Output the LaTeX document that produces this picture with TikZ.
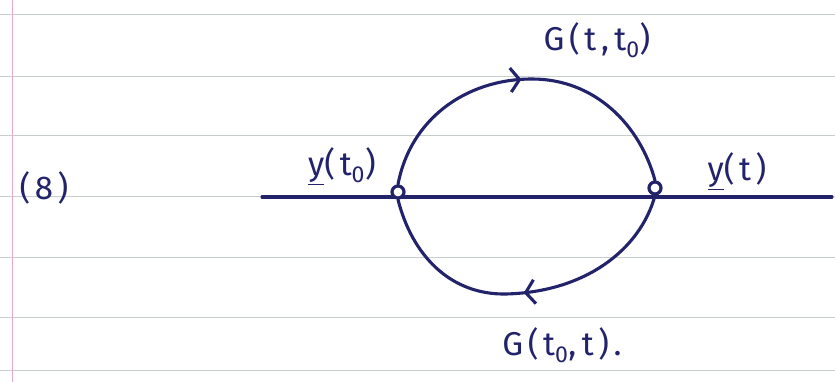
\documentclass[tikz,border=0pt]{standalone}
\usepackage{fontspec}
\setmainfont{Fira Sans}[LetterSpace=14]
\usetikzlibrary{arrows.meta,decorations.markings}
\definecolor{ink}{RGB}{35,35,108}
\definecolor{rule}{RGB}{200,206,206}
\definecolor{margin}{RGB}{236,170,200}
\tikzset{
  inkline/.style={draw=ink,line width=3.1pt,line cap=round,line join=round},
  dot/.style={circle,draw=ink,line width=3.2pt,minimum size=12pt,inner sep=0pt,fill=white},
  lbl/.style={text=ink,font=\fontsize{33}{36}\selectfont,inner sep=0pt},
  barb/.style={postaction={decorate,decoration={markings,mark=at position #1 with {\arrow[ink,line width=3.1pt]{Straight Barb[length=9pt,width=24pt]}}}}}
}
\begin{document}
\begin{tikzpicture}[x=1pt,y=-1pt]
\useasboundingbox (0,0) rectangle (835,382);
\fill[white] (0,0) rectangle (835,382);
% ruled paper
\foreach \yy in {15,77,136,197,257,317,370}
  \draw[rule,line width=1pt] (0,\yy) -- (835,\yy);
\draw[margin,line width=1pt] (12,0) -- (12,382);
% main line
\coordinate (A) at (262,197);
\coordinate (B) at (832,197);
\draw[inkline] (A) -- (B);
% nodes
\node[dot] (L) at (398,192) {};
\node[dot] (R) at (655,188) {};
% upper arc L -> R
\draw[inkline,barb=0.49] (L.north) .. controls (410,120) and (465,79) .. (532,79)
   .. controls (595,79) and (640,125) .. (R.north);
% lower arc R -> L
\draw[inkline,barb=0.50] (R.south) .. controls (640,250) and (585,292) .. (506,294)
   .. controls (450,295) and (412,255) .. (L.south);
% labels
\node[lbl] (g1) at (597,40) {G(t,\,t\textsubscript{0})};
\node[lbl] (y0) at (342,166) {\underline{y}(t\textsubscript{0})};
\node[lbl] (y1) at (737,171) {\underline{y}(t)};
\node[lbl] (g2) at (562,345) {G(t\textsubscript{0},\,t).};
\node[lbl] (num) at (44,188) {(8)};
\end{tikzpicture}
\end{document}
